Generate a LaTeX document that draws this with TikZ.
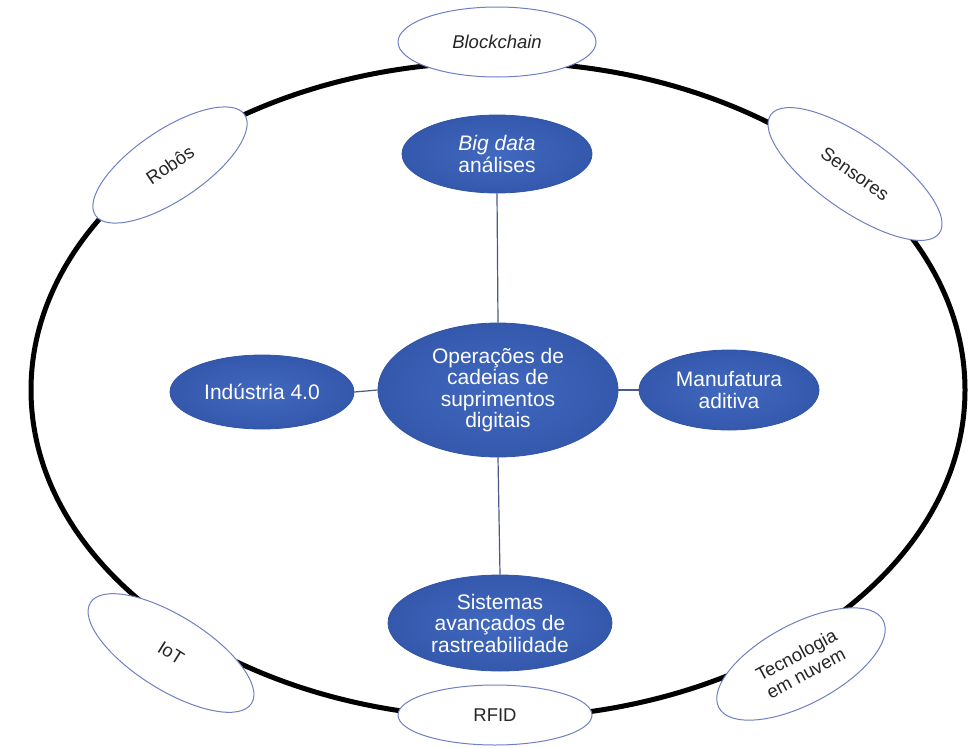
\documentclass[tikz,border=0pt]{standalone}
\usepackage{fontspec}
\setmainfont{Liberation Sans}
\usetikzlibrary{shapes.geometric}
\definecolor{bluein}{HTML}{4169C0}
\definecolor{blueout}{HTML}{3458AC}
\definecolor{blueedge}{HTML}{3055A8}
\definecolor{outeredge}{HTML}{6E80C2}
\definecolor{linkcol}{HTML}{4A5A82}
\tikzset{
  bluenode/.style={ellipse, draw=blueedge, line width=0.8pt, inner color=bluein, outer color=blueout,
    text=white, align=center, inner sep=0pt,
    font=\fontsize{21}{21.5}\selectfont},
  whitenode/.style={ellipse, draw=outeredge, line width=1pt, fill=white, text=black!85,
    align=center, inner sep=0pt, font=\fontsize{18.5}{20.5}\selectfont},
  link/.style={draw=linkcol, line width=1.2pt}
}
\begin{document}
\begin{tikzpicture}[x=1pt,y=-1pt]
\useasboundingbox (0,0) rectangle (969,747);
% big ring
\draw[line width=5pt, black] (498,390) ellipse [x radius=467pt, y radius=328pt];
% central nodes
\node[bluenode, minimum width=240pt, minimum height=134pt] (core) at (498,390) {Operações de\\cadeias de\\suprimentos\\digitais};
\node[bluenode, minimum width=190pt, minimum height=78pt] (big) at (497,154) {\textit{Big data}\\análises};
\node[bluenode, minimum width=184pt, minimum height=74pt] (ind) at (262,392) {Indústria 4.0};
\node[bluenode, minimum width=180pt, minimum height=80pt] (man) at (729,390) {Manufatura\\aditiva};
\node[bluenode, minimum width=224pt, minimum height=96pt] (sis) at (500,623) {Sistemas\\avançados de\\rastreabilidade};
% links
\draw[link] (core.north) -- (big.south);
\draw[link] (core.south) -- (sis.north);
\draw[link] (core.west) -- (ind.east);
\draw[link] (core.east) -- (man.west);
% outer nodes
\node[whitenode, minimum width=198pt, minimum height=70pt] (blk) at (497,42) {\textit{Blockchain}};
\node[whitenode, minimum width=194pt, minimum height=60pt] (rfid) at (495,715) {RFID};
\node[whitenode, rotate=34, minimum width=180pt, minimum height=70pt] (rob) at (170,165) {Robôs};
\node[whitenode, rotate=-35, minimum width=206pt, minimum height=74pt] (sen) at (855,174) {Sensores};
\node[whitenode, rotate=-32, minimum width=190pt, minimum height=74pt] (iot) at (171,653) {IoT};
\node[whitenode, rotate=28, minimum width=186pt, minimum height=80pt] (nuv) at (801,664) {Tecnologia\\em nuvem};
\end{tikzpicture}
\end{document}
